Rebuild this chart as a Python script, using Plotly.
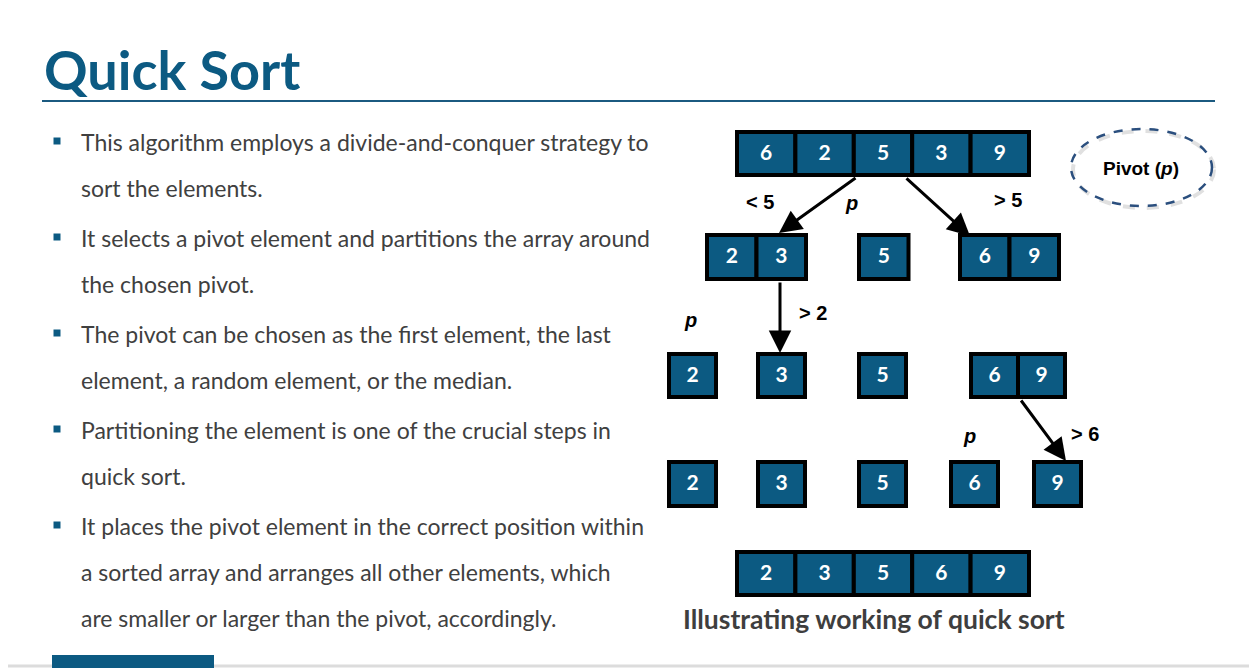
import plotly.graph_objects as go

# ---------------- data ----------------
title_text = "Quick Sort"
bullets = [
    ["This algorithm employs a divide-and-conquer strategy to", "sort the elements."],
    ["It selects a pivot element and partitions the array around", "the chosen pivot."],
    ["The pivot can be chosen as the first element, the last", "element, a random element, or the median."],
    ["Partitioning the element is one of the crucial steps in", "quick sort."],
    ["It places the pivot element in the correct position within",
     "a sorted array and arranges all other elements, which",
     "are smaller or larger than the pivot, accordingly."],
]
caption = "Illustrating working of quick sort"

level0 = [[6, 2, 5, 3, 9]]
level1 = [[2, 3], [5], [6, 9]]
level2 = [[2], [3], [5], [6, 9]]
level3 = [[2], [3], [5], [6], [9]]
sorted_vals = [[2, 3, 5, 6, 9]]

edge_labels = ["< 5", "p", "> 5", "p", "> 2", "p", "> 6"]
legend_text = "Pivot (p)"

# ---------------- layout geometry ----------------
W, H = 1257, 668
OFF = 8  # page body margin
BLUE = "#0C5A82"
TEXT = "#404040"

levels = [
    (level0, [737], 58.4, 132, 175),
    (level1, [707, 859, 960], 49.5, 235, 279),
    (level2, [669, 758, 859, 971], 47, 354, 397),
    (level3, [669, 758, 859, 951, 1034], 47, 462, 506),
    (sorted_vals, [737], 58.4, 552, 595),
]

fig = go.Figure()
shapes = []
annotations = []

# cells
cx, cy, ct = [], [], []
for groups, lefts, cw, y0, y1 in levels:
    for g, left in zip(groups, lefts):
        for i, v in enumerate(g):
            x0 = left + i * cw
            shapes.append(dict(type="rect", xref="x", yref="y", x0=x0, x1=x0 + cw,
                               y0=y0, y1=y1, fillcolor=BLUE,
                               line=dict(color="black", width=4), layer="below"))
            cx.append(x0 + cw / 2)
            cy.append((y0 + y1) / 2 + 1)
            ct.append(f"<b>{v}</b>")

fig.add_trace(go.Scatter(x=cx, y=cy, text=ct, mode="text",
                         textfont=dict(family="Lato", size=21, color="white"),
                         hoverinfo="skip", showlegend=False))

# arrows (tail -> head)
arrows = [
    ((857, 177), (779, 233)),
    ((905, 177), (970, 236)),
    ((780, 281), (780, 353)),
    ((1020, 399), (1066, 461)),
]
for (tx, ty), (hx, hy) in arrows:
    annotations.append(dict(x=hx, y=hy, ax=tx, ay=ty, xref="x", yref="y",
                            axref="x", ayref="y", text="", showarrow=True,
                            arrowhead=2, arrowsize=1.5, arrowwidth=3, arrowcolor="black"))

# edge labels
label_pos = [(760, 202), (851, 203), (1008, 200), (690, 320), (813, 313), (969, 436), (1085, 434)]
for lab, (lx, ly) in zip(edge_labels, label_pos):
    if lab == "p":
        txt = "<b><i>p</i></b>"
    else:
        txt = "<b>" + lab.replace("<", "&lt;").replace(">", "&gt;") + "</b>"
    annotations.append(dict(x=lx, y=ly, xref="x", yref="y", text=txt, showarrow=False,
                            font=dict(family="Liberation Sans", size=20, color="black")))

# pivot legend ellipse
shapes.append(dict(type="circle", xref="x", yref="y", x0=1073, x1=1214, y0=131, y1=208,
                   line=dict(color="rgba(0,0,0,0.12)", width=4, dash="dash")))
shapes.append(dict(type="circle", xref="x", yref="y", x0=1071, x1=1212, y0=129, y1=206,
                   line=dict(color="#2B4F7E", width=2.5, dash="dash")))
annotations.append(dict(x=1141, y=168, xref="x", yref="y",
                        text="<b>Pivot (<i>p</i>)</b>", showarrow=False,
                        font=dict(family="Liberation Sans", size=19, color="black")))

# title and rule
annotations.append(dict(x=42, y=69, xref="x", yref="y", xanchor="left", yanchor="middle",
                        text=f"<b>{title_text}</b>", showarrow=False,
                        font=dict(family="Lato", size=54, color=BLUE)))
shapes.append(dict(type="line", xref="x", yref="y", x0=42, x1=1215, y0=101, y1=101,
                   line=dict(color="#1B5A80", width=2)))

# bullets
line_y = 142
bx, by = [], []
for b in bullets:
    bx.append(57)
    by.append(line_y - 1)
    for line in b:
        annotations.append(dict(x=79, y=line_y, xref="x", yref="y", xanchor="left",
                                yanchor="middle", text=line, showarrow=False,
                                font=dict(family="Lato", size=23, color=TEXT)))
        line_y += 46
    line_y += 4

fig.add_trace(go.Scatter(x=bx, y=by, mode="markers",
                         marker=dict(symbol="square", size=7, color=BLUE),
                         hoverinfo="skip", showlegend=False))

# caption
annotations.append(dict(x=874, y=619, xref="x", yref="y", text=f"<b>{caption}</b>",
                        showarrow=False, font=dict(family="Lato", size=26.5, color="#3E3E3E")))

# footer
shapes.append(dict(type="line", xref="x", yref="y", x0=0, x1=W + OFF, y0=666, y1=666,
                   line=dict(color="#DCDCDC", width=3)))
shapes.append(dict(type="rect", xref="x", yref="y", x0=52, x1=214, y0=655, y1=668,
                   fillcolor=BLUE, line=dict(width=0)))

fig.update_layout(
    width=W, height=H, autosize=False,
    margin=dict(l=0, r=0, t=0, b=0),
    paper_bgcolor="white", plot_bgcolor="white",
    xaxis=dict(range=[OFF, W + OFF], visible=False, fixedrange=True),
    yaxis=dict(range=[H + OFF, OFF], visible=False, fixedrange=True),
    shapes=shapes, annotations=annotations,
)

fig.write_html("out.html")
